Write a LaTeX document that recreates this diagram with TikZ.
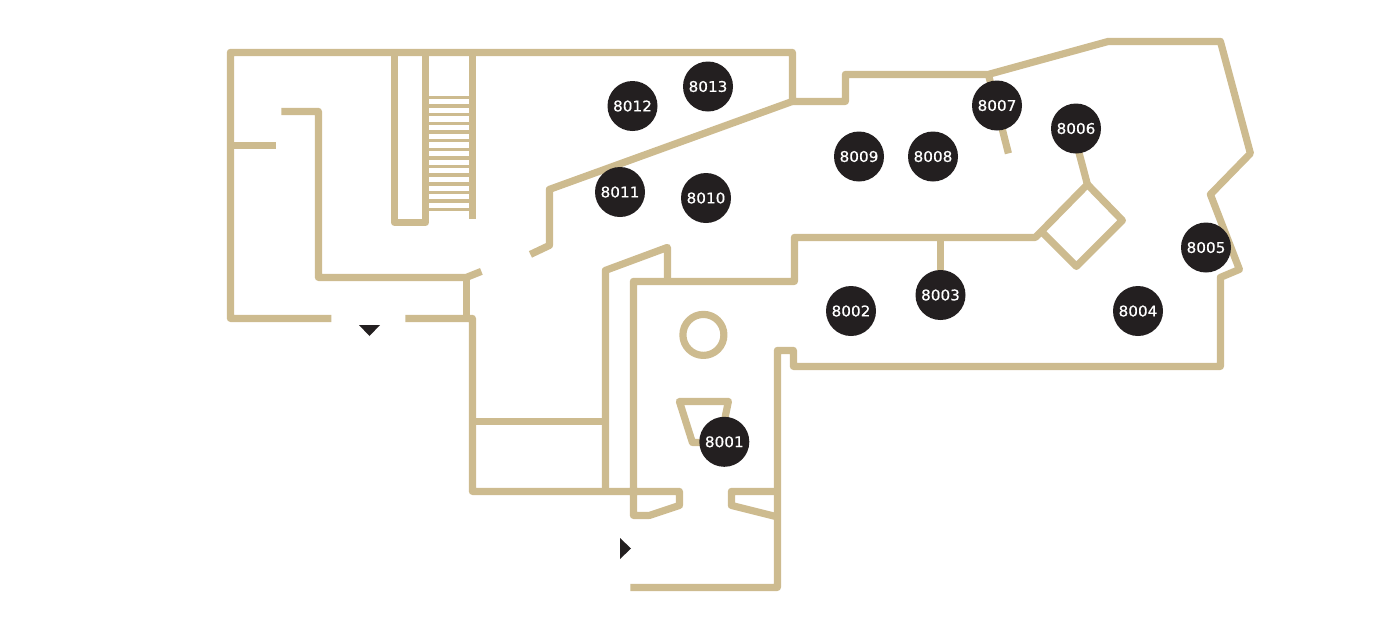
\documentclass[tikz,border=0pt]{standalone}
\usepackage{fontspec}
\setmainfont[FakeStretch=1.04,FakeBold=0.5]{DejaVu Sans}
\definecolor{wall}{HTML}{CDBB8F}
\definecolor{ink}{HTML}{231F20}
\tikzset{
  wallline/.style={draw=wall,line width=5.4pt,line join=round,line cap=butt},
  tread/.style={draw=wall,line width=2.6pt},
  marker/.style={circle,fill=ink,draw=none,minimum size=37.5pt,inner sep=0pt,text=white,font=\fontsize{11}{12}\selectfont},
  pointer/.style={fill=ink,draw=none}
}
\newcommand{\mk}[1]{\raisebox{-1pt}{#1}}
\begin{document}
\begin{tikzpicture}[x=0.75pt,y=-0.75pt]
\useasboundingbox (0,0) rectangle (1400,622);
\begin{scope}[shift={(0.4,0.4)}]
% outer wall
\draw[wallline] (331,318)--(230,318)--(230,52)--(792,52)--(792,101)--(845,101)--(845,74)--(988,74)--(1108,41)--(1220,41)--(1250,153)--(1210,194)--(1239,269)--(1220,277)--(1220,366)--(793,366)--(793,350)--(777,350)--(777,587)--(630,587);
% lower-left wall and gallery
\draw[wallline] (405,318)--(472,318)--(472,491)--(679,491)--(679,505)--(649,515)--(633,515)--(633,281)--(794,281)--(794,237)--(1035,237)--(1087,184)--(1122,220)--(1076,266)--(1041,231);
\draw[wallline] (775,491)--(731,491)--(731,505)--(775,516);
% inner walls
\draw[wallline] (605,491)--(605,270)--(667,247)--(667,281);
\draw[wallline] (472,421)--(605,421);
\draw[wallline] (281,111)--(318,111)--(318,277)--(466,277)--(481,271);
\draw[wallline] (466,277)--(466,318);
\draw[wallline] (230,145)--(276,145);
\draw[wallline] (792,101)--(549,189)--(549,245)--(530,254);
\draw[wallline] (394,52)--(394,222)--(425,222)--(425,52)--cycle;
\draw[wallline] (472,52)--(472,219);
\draw[wallline] (988,74)--(1008,153);
\draw[wallline] (1087,184)--(1078,150);
\draw[wallline] (940,237)--(940,290);
\draw[wallline] (722,430)--(728,401)--(679,401)--(692,442)--(715,442);
\draw[wallline] (703,334.5) circle[radius=20.5];
% stairs
\foreach \k in {0,...,13}{
  \draw[tread] (425,97+8.64*\k)--(472,97+8.64*\k);
}
\end{scope}
% entrance pointers
\fill[pointer] (359,325)--(380,325)--(369.5,336)--cycle;
\fill[pointer] (620,538)--(631,548.5)--(620,559)--cycle;
% markers
\node[marker] (m8013) at (708,86.5) {\mk{8013}};
\node[marker] (m8012) at (632.5,106) {\mk{8012}};
\node[marker] (m8011) at (620,192) {\mk{8011}};
\node[marker] (m8010) at (706,198) {\mk{8010}};
\node[marker] (m8009) at (859,156.5) {\mk{8009}};
\node[marker] (m8008) at (933,156.5) {\mk{8008}};
\node[marker] (m8007) at (997,105.5) {\mk{8007}};
\node[marker] (m8006) at (1076,128.5) {\mk{8006}};
\node[marker] (m8005) at (1206,247.5) {\mk{8005}};
\node[marker] (m8004) at (1138,311) {\mk{8004}};
\node[marker] (m8003) at (940.5,295) {\mk{8003}};
\node[marker] (m8002) at (851,311) {\mk{8002}};
\node[marker] (m8001) at (724.3,441.8) {\mk{8001}};
\end{tikzpicture}
\end{document}
